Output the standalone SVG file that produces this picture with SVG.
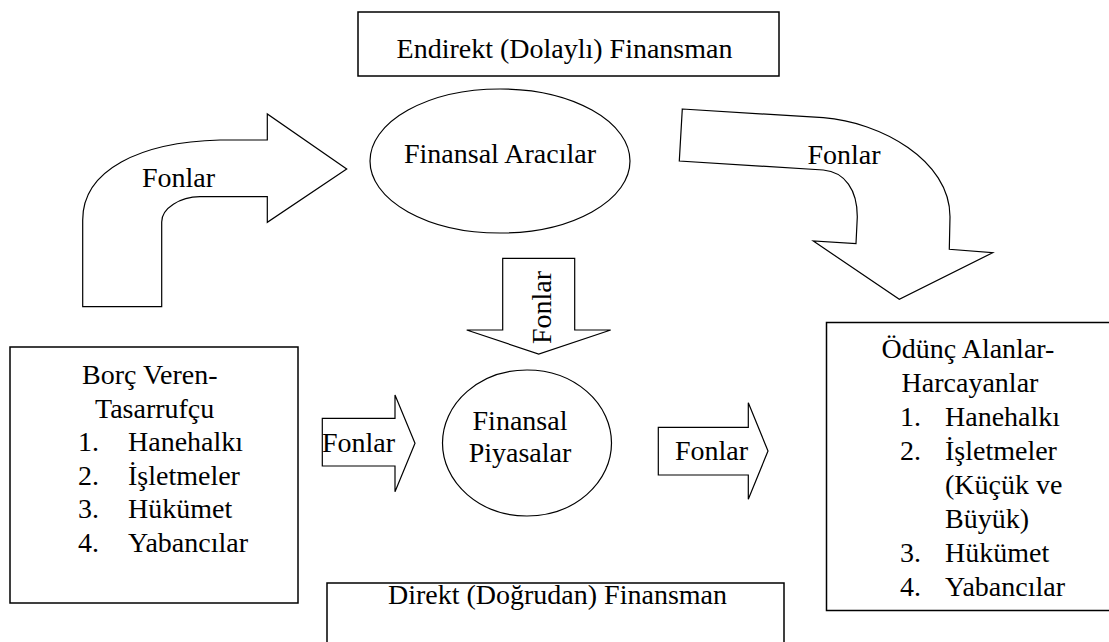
<svg xmlns="http://www.w3.org/2000/svg" width="1109" height="642" viewBox="0 0 1109 642" font-family="Liberation Serif, Times New Roman, serif" font-size="28">
<style>
.s{fill:#fff;stroke:#000;stroke-width:1.2}
.b{fill:#fff;stroke:#000;stroke-width:1.5}
.m{text-anchor:middle}
</style>
<rect width="1109" height="642" fill="#fff"/>
<g id="connectors">
<path class="s" d="M82.7,306.7 L82.7,220 C82.7,170 140,142 220,140 L267.3,140 L267.3,114 L346.7,169 L267.3,222.3 L267.3,196.7 L200,196.7 C180,197 161.7,208 161.7,222 L161.7,306.7 Z"/>
<text class="m" x="178.5" y="187">Fonlar</text>
<path class="s" d="M682.3,109 L823.3,117.7 C880,122 950,160 950,216.7 L949.3,249.3 L992.7,252.7 L899.3,299.3 L813.3,241 L856,243.7 L857.3,216.7 C857.3,190 845,172 823.3,170 L679.3,161 Z"/>
<text class="m" x="844" y="163.5">Fonlar</text>
<path class="s" d="M502.7,258.3 L574.7,258.3 L574.7,330 L610.7,330 L538.7,354 L466.7,330 L502.7,330 Z"/>
<text class="m" transform="translate(550.5,307.5) rotate(-90)">Fonlar</text>
<path class="s" d="M322.3,418.3 L395,418.3 L395,395 L415,443.3 L395,491.7 L395,466 L322.3,466 Z"/>
<text class="m" x="358.5" y="452">Fonlar</text>
<path class="s" d="M658.3,427.3 L748.3,427.3 L748.3,402.7 L768,451 L748.3,499.3 L748.3,475 L658.3,475 Z"/>
<text class="m" x="711.5" y="460">Fonlar</text>
</g>
<g id="endirekt">
<rect class="b" x="358" y="12" width="421" height="64"/>
<text class="m" x="564.5" y="58">Endirekt (Dolaylı) Finansman</text>
</g>
<g id="aracilar">
<ellipse class="s" cx="500" cy="161" rx="130" ry="72"/>
<text class="m" x="500" y="163">Finansal Aracılar</text>
</g>
<g id="piyasalar">
<ellipse class="s" cx="527" cy="443" rx="84.5" ry="73"/>
<text class="m" x="520" y="430">Finansal</text>
<text class="m" x="520" y="462">Piyasalar</text>
</g>
<g id="borc">
<rect class="b" x="10" y="347" width="288" height="256"/>
<text x="82" y="384">Borç Veren-</text>
<text x="95" y="417.5">Tasarrufçu</text>
<text x="78" y="451">1.</text><text x="128" y="451">Hanehalkı</text>
<text x="78" y="484.5">2.</text><text x="128" y="484.5">İşletmeler</text>
<text x="78" y="518">3.</text><text x="128" y="518">Hükümet</text>
<text x="78" y="551.5">4.</text><text x="128" y="551.5">Yabancılar</text>
</g>
<g id="odunc">
<rect class="b" x="826.5" y="322.5" width="290" height="288"/>
<text class="m" x="968" y="358">Ödünç Alanlar-</text>
<text class="m" x="970" y="392">Harcayanlar</text>
<text x="900" y="426">1.</text><text x="945" y="426">Hanehalkı</text>
<text x="900" y="460">2.</text><text x="945" y="460">İşletmeler</text>
<text x="945" y="494">(Küçük ve</text>
<text x="945" y="528">Büyük)</text>
<text x="900" y="562">3.</text><text x="945" y="562">Hükümet</text>
<text x="900" y="596">4.</text><text x="945" y="596">Yabancılar</text>
</g>
<g id="direkt">
<rect class="b" x="327" y="583" width="457" height="80"/>
<text class="m" x="557.5" y="604">Direkt (Doğrudan) Finansman</text>
</g>
</svg>
